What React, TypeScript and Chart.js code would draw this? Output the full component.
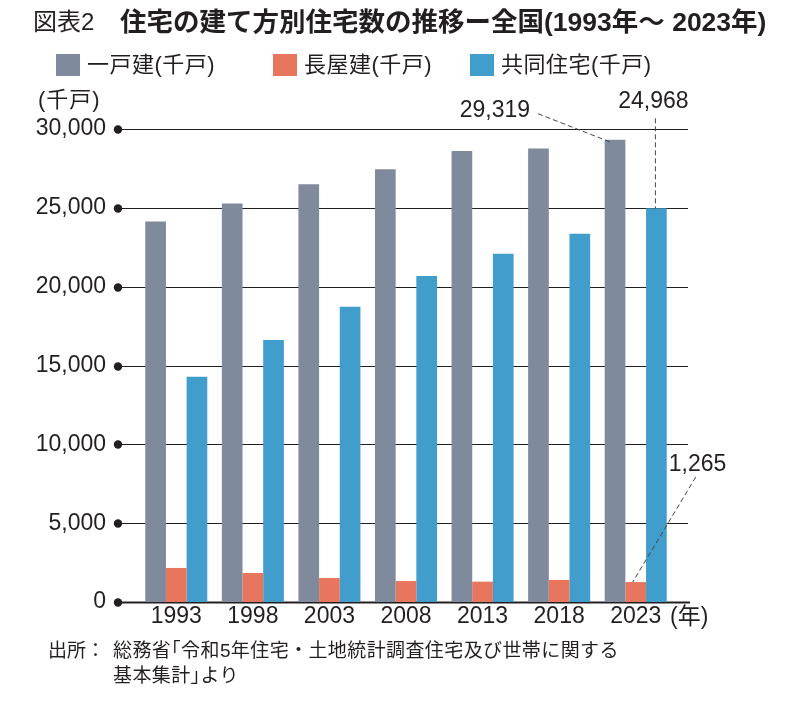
import React, { useEffect, useRef } from "react";
import { Chart, registerables } from "chart.js";

Chart.register(...registerables);

const years = ["1993", "1998", "2003", "2008", "2013", "2018", "2023"];
const detached = [24141, 25269, 26491, 27450, 28599, 28757, 29319];
const rowHouse = [2160, 1840, 1520, 1330, 1290, 1400, 1265];
const apartment = [14280, 16616, 18733, 20684, 22085, 23353, 24968];
const seriesNames = ["一戸建(千戸)", "長屋建(千戸)", "共同住宅(千戸)"];
const seriesColors = ["#7f8a9d", "#e8765f", "#419dcb"];
const yMin = 0;
const yMax = 30000;
const yStep = 5000;

const FONT = '"Liberation Sans", "Noto Sans CJK JP", Arial, sans-serif';
const INK = "#231f20";

const gridPlugin = {
  id: "dotGrid",
  beforeDatasetsDraw(chart: any) {
    const { ctx, chartArea, scales } = chart;
    const y = scales.y;
    const x0 = chartArea.left - 20;
    const x1 = chartArea.right + 14;
    ctx.save();
    y.ticks.forEach((t: any) => {
      const py = Math.round(y.getPixelForValue(t.value)) + 0.5;
      ctx.strokeStyle = INK;
      ctx.lineWidth = t.value === 0 ? 2 : 1.1;
      ctx.beginPath();
      ctx.moveTo(x0, py);
      ctx.lineTo(x1 + (t.value === 0 ? 2 : 0), py);
      ctx.stroke();
      ctx.fillStyle = INK;
      ctx.beginPath();
      ctx.arc(x0, py, 4.2, 0, Math.PI * 2);
      ctx.fill();
    });
    ctx.restore();
  },
};

const labelPlugin = {
  id: "calloutLabels",
  afterDatasetsDraw(chart: any) {
    const { ctx } = chart;
    const last = years.length - 1;
    const g = chart.getDatasetMeta(0).data[last];
    const o = chart.getDatasetMeta(1).data[last];
    const b = chart.getDatasetMeta(2).data[last];
    ctx.save();
    ctx.strokeStyle = "#444";
    ctx.lineWidth = 1;
    ctx.setLineDash([5, 3]);
    ctx.beginPath();
    ctx.moveTo(g.x - 77, g.y - 26);
    ctx.lineTo(g.x - 3, g.y + 3);
    ctx.stroke();
    ctx.beginPath();
    ctx.moveTo(b.x - 1, b.y - 90);
    ctx.lineTo(b.x - 1, b.y);
    ctx.stroke();
    ctx.beginPath();
    ctx.moveTo(o.x + 60, o.y - 105);
    ctx.lineTo(o.x - 3, o.y);
    ctx.stroke();
    ctx.setLineDash([]);
    ctx.fillStyle = INK;
    ctx.font = `23px ${FONT}`;
    ctx.textBaseline = "middle";
    ctx.textAlign = "right";
    ctx.fillText(detached[last].toLocaleString("en-US"), g.x - 85, g.y - 29);
    ctx.textAlign = "center";
    ctx.fillText(apartment[last].toLocaleString("en-US"), b.x - 3, b.y - 107);
    ctx.textAlign = "left";
    ctx.fillText(rowHouse[last].toLocaleString("en-US"), o.x + 33, o.y - 117);
    ctx.restore();
  },
};

export default function App() {
  const ref = useRef<HTMLCanvasElement | null>(null);

  useEffect(() => {
    if (!ref.current) return;
    const data = [detached, rowHouse, apartment];
    const chart = new Chart(ref.current, {
      type: "bar",
      data: {
        labels: years,
        datasets: data.map((d, i) => ({
          label: seriesNames[i],
          data: d,
          backgroundColor: seriesColors[i],
          borderWidth: 0,
          categoryPercentage: 0.81,
          barPercentage: 1,
        })),
      },
      options: {
        responsive: false,
        animation: false,
        devicePixelRatio: 1,
        layout: { padding: { top: 129, right: 118, left: 0, bottom: 0 } },
        plugins: {
          legend: { display: false },
          title: { display: false },
          tooltip: { enabled: false },
        },
        scales: {
          x: {
            grid: { display: false, drawTicks: false },
            border: { display: false },
            ticks: {
              color: INK,
              font: { family: FONT, size: 23 },
              padding: 1,
              maxRotation: 0,
            },
            afterFit: (s: any) => {
              s.height = 119;
            },
          },
          y: {
            min: yMin,
            max: yMax,
            grid: { display: false, drawTicks: false },
            border: { display: false },
            ticks: {
              stepSize: yStep,
              color: INK,
              font: { family: FONT, size: 23 },
              padding: 32,
              callback: (v: any) => Number(v).toLocaleString("en-US"),
            },
            afterFit: (s: any) => {
              s.width = 138;
            },
          },
        },
      },
      plugins: [gridPlugin, labelPlugin],
    });
    return () => chart.destroy();
  }, []);

  const txt: React.CSSProperties = {
    position: "absolute",
    fontFamily: FONT,
    color: INK,
    whiteSpace: "nowrap",
  };

  return (
    <div
      style={{
        position: "absolute",
        left: 0,
        top: 0,
        width: 792,
        height: 721,
        background: "#fff",
        overflow: "hidden",
      }}
    >
      <canvas
        ref={ref}
        width={792}
        height={721}
        style={{ position: "absolute", left: 0, top: 0, width: 792, height: 721 }}
      />
      <div style={{ ...txt, left: 33, top: 6, fontSize: 24, lineHeight: "32px" }}>図表2</div>
      <div style={{ ...txt, left: 120, top: 5, fontSize: 26.5, fontWeight: 700, lineHeight: "34px" }}>
        住宅の建て方別住宅数の推移ー全国(1993年～ 2023年)
      </div>
      {seriesNames.map((n, i) => {
        const bx = [56, 273, 470][i];
        return (
          <React.Fragment key={n}>
            <div
              style={{
                position: "absolute",
                left: bx,
                top: 54,
                width: 24,
                height: 22,
                background: seriesColors[i],
              }}
            />
            <div style={{ ...txt, left: bx + 31, top: 50, fontSize: 22, letterSpacing: 0.5, lineHeight: "30px" }}>{n}</div>
          </React.Fragment>
        );
      })}
      <div style={{ ...txt, left: 38, top: 85, fontSize: 22, letterSpacing: 1, lineHeight: "30px" }}>(千戸)</div>
      <div style={{ ...txt, left: 670, top: 601, fontSize: 23, lineHeight: "30px" }}>(年)</div>
      <div style={{ ...txt, left: 48, top: 638, fontSize: 19, lineHeight: "25px" }}>出所：</div>
      <div style={{ ...txt, left: 113, top: 638, fontSize: 19, letterSpacing: 0.4, lineHeight: "25px" }}>
        総務省｢令和5年住宅・土地統計調査住宅及び世帯に関する
        <br />
        基本集計｣より
      </div>
    </div>
  );
}
